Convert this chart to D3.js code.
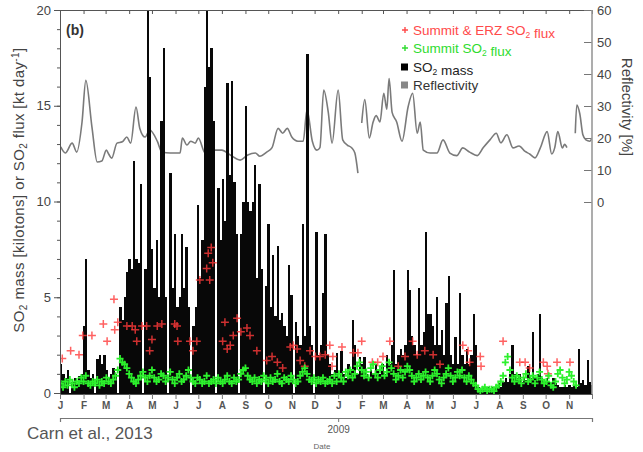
<!DOCTYPE html>
<html><head><meta charset="utf-8">
<script src="https://cdn.jsdelivr.net/npm/d3@7/dist/d3.min.js"></script>
<style>
body{margin:0;background:#fff;}
svg{display:block;font-family:"Liberation Sans",Arial,Helvetica,sans-serif;}
</style></head>
<body>
<svg id="chart" width="643" height="452"></svg>
<script>
// ---- DATA ----
// Daily SO2 mass, binned every 3 days starting 2008-01-01 (kilotons)
const massStart = "2008-01-01";
const massStepDays = 3;
const so2Mass = [
 1.5,1.0,0.8,1.2,0,0.6,0.8,0.5,0.9,1.0, 3.5,7.0,1.2,0.8,1.0,0,1.8,2.0,1.5,2.0, 1.2,0.8,1.0,1.3,1.0,0,
 4.5,3.8,5.0,6.3,7.0,6.5,12.1,7.0,6.8,10.9,0,
 6.5,21,16.5,7.5,5.5,8.0,5.0,14.2,18.0,5.0,0,
 11.5,5.5,8.3,4.5,5.0,8.3,5.5,7.6,4.5,0,3.5,4.5,9.8,6.0,
 8.0,16.0,21,17.0,18.0,14.2,0,10.7,8.0,11.2,9.0,16.2,11.4,16.3,11.0,8.3,0,
 8.3,10.0,15.0,10.0,9.5,10.0,11.9,6.0,10.9,6.5,0,5.6,8.8,4.5,7.2,4.0,7.7,3.8,4.2,3.5,3.0,
 6.7,5.1,0,3.7,3.0,2.5,8.8,3.0,17.7,3.5,2.5,0,8.4,2.0,2.5,5.2,8.3,2.0,
 1.5,1.0,1.2,2.1,0.8,2.2,1.0,0.8,1.5,1.2, 3.8,2.5,1.0,1.9,1.5,1.9,1.0,0.8,1.2,1.0, 1.5,1.2,1.0,1.5,1.0,2.0,1.5,2.5,
 6.4,1.5,2.0,2.3,2.0,2.5,6.4,5.4,3.0,2.5, 2.0,5.5,2.5,3.2,8.4,4.1,4.1,3.5,2.5,5.0, 2.5,3.3,2.0,4.7,6.1,2.0,1.5,2.9,1.5,5.2, 2.0,1.5,2.3,1.5,2.0,4.1,2.5,
 0.3,0.2,0.3,0.2,0.3,0.2,0.3,0.2,0.3,0.5, 0.3,0.6,0.8,0.6,1.0,2.5,1.0,0.8,1.0,0.6, 0.8,0.7,1.4,0.8,3.2,0.8,1.0,4.1,0.8,0.6,
 0.8,0.6,0.5,0.8,0.5,0.4,0.3,0.3,0.4,0.3, 0.4,0.3,0.4,0.3,2.3,0.5,0.7,0.4,1.7,0.6, 0.4
];
// Summit SO2 flux (kt/day), every 3 days from 2008-01-01
const summitFlux = [
 0.5,0.3,0.6,0.4,0.7,0.5,0.3,0.6,0.5,0.8, 0.6,0.9,0.5,0.4,0.6,0.5,0.7,0.4,0.6,0.5, 0.8,0.6,0.5,0.7,0.9,1.2,
 1.8,1.6,1.5,1.3,1.0,0.8,
 0.6,0.5,0.7,0.9,1.1,0.8,0.6,0.9,1.2,0.8, 0.6,0.7,1.0,0.9,0.6,0.8,1.1,0.7,0.5,0.8, 1.0,0.6,0.7,0.9,1.2,0.8,
 0.6,0.5,0.8,0.7,0.5,0.6,0.9,0.5,0.6,0.7, 0.5,0.8,0.6,0.5,0.7,0.9,0.6,0.5,0.8,0.6, 0.7,1.0,1.2,1.3,0.9,0.7,0.6,0.8,0.5,0.7, 0.6,0.9,0.7,
 0.5,0.8,0.6,0.7,1.0,0.6,0.5,0.8,0.7,0.6, 0.9,0.7,0.5,0.6,0.9,1.1,1.3,1.0,0.7,0.6, 0.8,0.5,0.7,0.6,0.8,0.5,0.6,
 0.7,0.5,0.9,0.6,1.0,0.8,0.6,1.1,0.9,1.2, 0.8,1.0,1.4,1.6,1.2,0.9,1.1,0.8,1.3,1.5, 1.0,0.8,1.2,1.4,0.9,1.1,1.6,1.3,1.0,0.7,
 0.9,1.2,0.8,1.1,1.4,1.2,0.9,0.6,0.8,1.0, 0.7,0.9,1.1,0.8,0.6,0.9,1.2,1.0,0.7,0.5, 0.8,1.0,1.3,0.9,0.6,0.8,1.1,0.9,1.2,0.8,
 0.6,0.9,0.7,0.5,0.4,
 0.2,0.1,0.2,0.3,0.1,0.2,0.2,0.1,0.3,
 0.4,0.6,0.9,1.6,1.9,1.2,0.8,0.6,0.9,0.7, 0.5,0.8,1.0,0.6,0.7,0.9,0.5,0.8,1.1,0.7, 0.5,0.6,0.9,0.4,0.3,0.6,1.0,1.2,0.8,0.5, 0.7,1.1,0.9,0.6,0.4
];
// Summit & ERZ SO2 flux: day offset from 2008-01-01 and value (kt/day)
const erzDay = [3,14,25,30,42,57,62,71,72,76,88,95,99,101,108,114,118,121,128,134,151,154,155,171,175,180,184,193,195,197,199,201,214,217,220,224,228,233,238,246,250,259,272,279,286,293,303,307,312,316,322,329,336,342,349,355,358,359,371,386,392,397,411,418,425,434,445,454,464,470,480,491,500,530,537,539,553,554,583,605,612,618,636,641,642,654,671];
const erzFlux = [1.8,2.2,2.0,3.0,3.0,3.6,2.7,4.9,3.3,3.7,3.5,3.5,3.3,2.7,3.5,3.5,2.2,2.8,3.5,3.6,3.6,3.5,2.7,2.7,2.2,2.7,5.9,6.5,7.3,5.9,7.6,6.8,2.7,3.7,2.3,2.5,3.0,3.9,3.2,3.4,3.0,2.2,1.7,1.9,1.6,1.3,2.4,2.5,2.3,1.7,1.4,2.2,1.9,1.9,2.0,2.5,1.4,1.9,2.4,2.1,2.1,2.7,1.6,1.6,1.9,2.7,1.4,1.9,2.7,2.0,2.2,2.0,1.5,2.5,2.2,1.6,1.9,1.4,2.7,1.6,1.6,1.3,1.6,1.4,1.0,1.6,1.6];
// Reflectivity (%): day offset from 2008-01-01; null = data gap
const reflDay = [1,7,16,22,29,34,42,49,55,61,64,68,75,82,88,93,100,105,112,118,128,134,145,158,161,167,172,178,182,191,201,213,224,237,247,257,263,272,279,287,293,299,305,313,320,325,332,338,342,347,353,358,366,372,378,384,388,392,394,397,401,407,412,416,421,426,430,433,437,443,450,458,464,470,474,478,487,496,504,513,522,530,539,549,557,566,574,580,588,596,604,612,618,625,632,641,647,651,655,661,664,667,672,678,680,684,688,692,697,700];
const reflVal = [17.2,15.3,18.4,15.6,25,38,23.5,12.5,12.8,16.2,15,13.7,18.4,18.8,20.3,18.4,29.7,23,20.3,22.5,19,15.6,15.3,15.3,20,17.8,19,18.4,20,15.3,16.2,16.2,14.7,13.1,14.7,15.3,14.3,15.6,17,23,21.5,23,20.3,19,19,28.8,19,16.2,17,35,28,18.4,35,19.4,17.8,16.9,15.3,9,null,24.7,32,20,25,27,25,34,29,38.6,28,25,19,29.7,34,21.5,25,16.2,15.3,15.3,19.4,15.3,14.5,16.9,15.6,14.5,17,19.5,21.5,18.5,21,16.9,17.5,15.8,15,13.8,16.9,22,15,17,22,16.9,18,17,null,21.5,30.3,27.5,21,19.4,19,20];
const monthLabels = ["J","F","M","A","M","J","J","A","S","O","N","D"];
const leftTicks = [0,5,10,15,20];
const rightTicks = [0,10,20,30,40,50,60];

// ---- CHART ----
const svg = d3.select("#chart");
const L = 60, R = 592, T = 10, B = 393;
const t0 = new Date(Date.UTC(2008,0,1)), t1 = new Date(Date.UTC(2009,11,1));
const x = d3.scaleUtc().domain([t0, t1]).range([L, R]);
const y = d3.scaleLinear().domain([0,20]).range([B, T]);
const yR = d3.scaleLinear().domain([0,60]).range([202, T]);
const dayToDate = d => d3.utcDay.offset(t0, d);
const tickCol = "#444";
const FONT = "Liberation Sans,Arial,sans-serif";

svg.append("defs").append("clipPath").attr("id","clip")
  .append("rect").attr("x",L).attr("y",T).attr("width",R-L).attr("height",B-T+2);
const plot = svg.append("g").attr("clip-path","url(#clip)");

// Reflectivity line
const reflData = reflDay.map((d,i)=>({d:dayToDate(d), v:reflVal[i]}));
plot.append("path").datum(reflData)
  .attr("fill","none").attr("stroke","#7a7a7a").attr("stroke-width",1.6)
  .attr("d", d3.line().defined(p=>p.v!=null).x(p=>x(p.d)).y(p=>yR(p.v)).curve(d3.curveMonotoneX));

// SO2 mass bars
const ms = new Date(massStart+"T00:00:00Z");
plot.append("g").attr("shape-rendering","crispEdges")
  .selectAll("rect.bar").data(so2Mass).join("rect").attr("class","bar")
  .attr("x",(v,i)=>x(d3.utcDay.offset(ms,i*massStepDays)))
  .attr("width",(v,i)=>x(d3.utcDay.offset(ms,(i+1)*massStepDays))-x(d3.utcDay.offset(ms,i*massStepDays)))
  .attr("y",v=>y(v)).attr("height",v=>B+2-y(v))
  .attr("fill","#080808");

// Red crosses
const cross = s => `M${-s},0H${s}M0,${-s}V${s}`;
plot.selectAll("path.erz").data(erzDay).join("path").attr("class","erz")
  .attr("transform",(d,i)=>`translate(${x(dayToDate(d))},${y(erzFlux[i])})`)
  .attr("d",cross(4)).attr("stroke","#ff3a3a").attr("stroke-width",1.5).attr("opacity",0.8);

// Green crosses
plot.selectAll("path.sum").data(summitFlux).join("path").attr("class","sum")
  .attr("transform",(v,i)=>`translate(${x(d3.utcDay.offset(ms,i*massStepDays+1))},${y(v)})`)
  .attr("d",cross(3.5)).attr("stroke","#2cf02c").attr("stroke-width",1.8);

// Top border with month ticks
const months = d3.utcMonth.range(t0, t1);
svg.append("g").attr("transform",`translate(0,${T})`)
  .call(d3.axisTop(x).tickValues(months).tickSize(-4).tickFormat(""))
  .call(g=>{g.select(".domain").attr("stroke","#555");g.selectAll("line").attr("stroke","#555");});

// Bottom month axis
svg.append("g").attr("transform",`translate(0,${B+1})`)
  .call(d3.axisBottom(x).tickValues(months.concat([t1])).tickSize(5).tickPadding(3)
    .tickFormat(d=> d>=t1 ? "" : monthLabels[d.getUTCMonth()]))
  .call(g=>{g.select(".domain").attr("stroke","#555");g.selectAll("line").attr("stroke","#777");
    g.selectAll("text").attr("fill","#555").attr("font-size",10).attr("font-weight","bold").attr("font-family",FONT);});

// Year axis
svg.append("g").attr("transform",`translate(0,418)`)
  .call(d3.axisBottom(x).tickValues([new Date(Date.UTC(2009,0,1))]).tickSize(4).tickPadding(4).tickFormat(()=>"2009"))
  .call(g=>{g.select(".domain").attr("stroke","#777").attr("stroke-width",1.2);g.selectAll("line").attr("stroke","#777");
    g.selectAll("text").attr("fill","#555").attr("font-size",10).attr("font-family",FONT);});
svg.append("text").attr("x",322).attr("y",449).attr("text-anchor","middle")
  .attr("font-size",8).attr("fill","#666").text("Date");

// Left axis
svg.append("g").attr("transform",`translate(${L},0)`)
  .call(d3.axisLeft(y).tickValues(d3.range(0,21)).tickSize(3).tickFormat(""))
  .call(g=>{g.select(".domain").attr("stroke","#555");g.selectAll("line").attr("stroke","#555");});
svg.append("g").attr("transform",`translate(${L},0)`)
  .call(d3.axisLeft(y).tickValues(leftTicks).tickSize(6).tickPadding(3).tickFormat(d3.format("d")))
  .call(g=>{g.select(".domain").remove();g.selectAll("line").attr("stroke","#555");
    g.selectAll("text").attr("fill",tickCol).attr("font-size",13).attr("font-family",FONT);});

// Right axis
svg.append("g").attr("transform",`translate(${R},0)`)
  .call(d3.axisRight(yR).tickValues(rightTicks).tickSize(-8).tickPadding(5).tickFormat(d3.format("d")))
  .call(g=>{g.select(".domain").remove();g.selectAll("line").attr("stroke","#777");
    g.selectAll("text").attr("fill",tickCol).attr("font-size",13).attr("font-family",FONT);});
svg.append("line").attr("x1",R).attr("x2",R).attr("y1",T).attr("y2",B+1).attr("stroke","#999").attr("stroke-width",1.6);

// Axis titles
const yl = svg.append("text").attr("transform",`translate(24,190) rotate(-90)`)
  .attr("text-anchor","middle").attr("font-size",15).attr("letter-spacing",0.4).attr("fill","#444");
yl.append("tspan").text("SO");
yl.append("tspan").attr("font-size",10).attr("dy",3).text("2");
yl.append("tspan").attr("dy",-3).text(" mass [kilotons] or SO");
yl.append("tspan").attr("font-size",10).attr("dy",3).text("2");
yl.append("tspan").attr("dy",-3).text(" flux [kt day");
yl.append("tspan").attr("font-size",10).attr("dy",-5).text("-1");
yl.append("tspan").attr("dy",5).text("]");

svg.append("text").attr("transform",`translate(622,107) rotate(90)`)
  .attr("text-anchor","middle").attr("font-size",15).attr("fill","#444").text("Reflectivity [%]");

// Panel label
svg.append("text").attr("x",66).attr("y",35).attr("font-size",14).attr("font-weight","bold").attr("fill","#333").text("(b)");

// Legend
const lg = svg.append("g");
const legendRow = (yy, marker, color, parts) => {
  if (marker==="cross") lg.append("path").attr("transform",`translate(405,${yy})`).attr("d",cross(3)).attr("stroke",color).attr("stroke-width",1.4);
  else lg.append("rect").attr("x",401).attr("y",yy-3.5).attr("width",7).attr("height",7).attr("fill",marker);
  const t = lg.append("text").attr("x",413).attr("y",yy+4.5).attr("font-size",13.5).attr("fill",color);
  parts.forEach(p=>{ if(p==="2"){t.append("tspan").attr("font-size",8.5).attr("dy",3).text("2");t.append("tspan").attr("dy",-3).text("");} else t.append("tspan").text(p);});
};
legendRow(30,"cross","#ff4a4a",["Summit & ERZ SO","2"," flux"]);
legendRow(48,"cross","#2fdc2f",["Summit SO","2"," flux"]);
legendRow(67,"#000","#222",["SO","2"," mass"]);
legendRow(85,"#888","#333",["Reflectivity"]);

// Citation
svg.append("text").attr("x",27).attr("y",439).attr("font-size",17).attr("fill","#555").text("Carn et al., 2013");
</script>
</body></html>
